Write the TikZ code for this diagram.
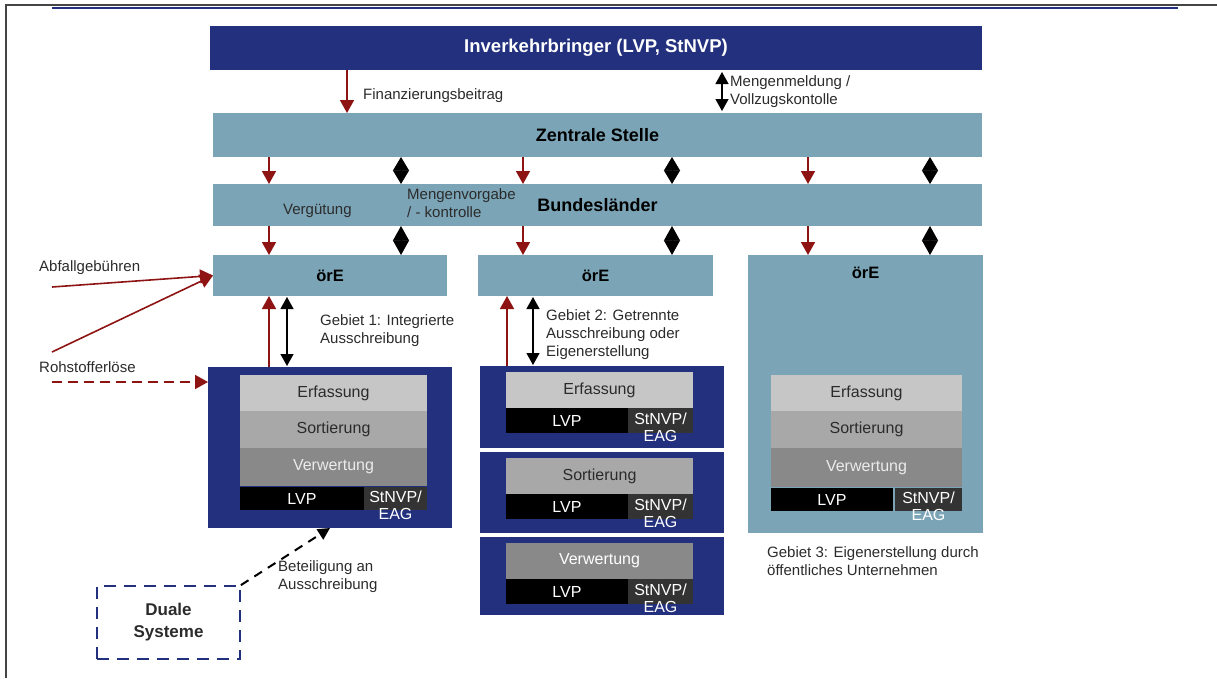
\documentclass[tikz,border=0pt]{standalone}
\usepackage{fontspec}
\setmainfont{Liberation Sans}
\usepackage{xcolor}
\usetikzlibrary{arrows.meta}
\definecolor{VSNavy}{HTML}{22307E}
\definecolor{VSTeal}{HTML}{7BA5B7}
\definecolor{VSRed}{HTML}{8E1414}
\definecolor{VSFrame}{HTML}{454545}
\definecolor{VSErf}{HTML}{C6C6C6}
\definecolor{VSSort}{HTML}{A8A8A8}
\definecolor{VSVerw}{HTML}{898989}
\definecolor{VSStn}{HTML}{333333}
\definecolor{VSText}{HTML}{2B2B2B}

\tikzset{
  bar/.style={inner sep=0pt,outer sep=0pt,draw=none},
  bandtext/.style={font=\fontsize{18}{21}\selectfont\bfseries},
  oretext/.style={font=\fontsize{16.5}{19}\selectfont\bfseries},
  stage/.style={bar,font=\fontsize{16}{19}\selectfont,text=VSText},
  lvp/.style={bar,fill=black,text=white,font=\fontsize{16}{19}\selectfont},
  stn/.style={inner sep=0pt,text=white,align=center,font=\fontsize{16}{17}\selectfont},
  lbl/.style={anchor=west,inner sep=0pt,align=left,text=VSText,font=\fontsize{15}{18}\selectfont},
  geld/.style={draw=VSRed,line width=1.6pt,-{Triangle[length=13pt,width=14pt]}},
  ctrl/.style={draw=black,line width=1.3pt,{Triangle[length=12pt,width=13pt]}-{Triangle[length=12pt,width=13pt]}},
  diam/.style={draw=black,line width=1pt,{Triangle[length=13.6pt,width=16pt]}-{Triangle[length=13.6pt,width=16pt]}},
  diamlow/.style={draw=black,line width=1pt,{Triangle[length=14.6pt,width=16pt]}-{Triangle[length=14.6pt,width=16pt]}},
  beteil/.style={draw=black,line width=2pt,dash pattern=on 9pt off 7pt,-{Triangle[length=12pt,width=12pt]}},
  dual/.style={draw=VSNavy,line width=1.8pt,dash pattern=on 12pt off 8pt,inner sep=0pt,align=center,
    font=\fontsize{17}{22}\selectfont\bfseries,text=VSText}
}

\begin{document}
\begin{tikzpicture}[x=1pt,y=-1pt]
\path[use as bounding box] (0,0) rectangle (1217,678);
% frame
\draw[VSFrame,line width=2.2pt] (6,678) -- (6,5) -- (1217,5);
\draw[VSNavy,line width=1.5pt] (52,8) -- (1178,8);

% bands
\node[bar,fill=VSNavy,text=white,minimum width=772pt,minimum height=44pt,font=\fontsize{18.5}{21}\selectfont\bfseries] (ivb) at (596,48) {Inverkehrbringer (LVP, StNVP)};
\node[bar,bandtext,fill=VSTeal,minimum width=769pt,minimum height=44pt] (zs) at (597.5,135) {Zentrale Stelle};
\node[bar,bandtext,fill=VSTeal,minimum width=769pt,minimum height=42pt] (bl) at (597.5,205) {Bundesländer};
\node[bar,oretext,fill=VSTeal,minimum width=234pt,minimum height=41pt] (ore1) at (330,275.5) {örE};
\node[bar,oretext,fill=VSTeal,minimum width=235pt,minimum height=41pt] (ore2) at (595.5,275.5) {örE};
\node[bar,fill=VSTeal,minimum width=235pt,minimum height=278pt] (ore3) at (865.5,394) {};
\node[oretext,inner sep=0pt] (ore3lbl) at (865.5,273) {örE};

% columns
\coordinate (fin) at (347,0);
\coordinate (mm) at (722,0);
\coordinate (r1) at (269,0);
\coordinate (r2) at (523,0);
\coordinate (r3) at (808,0);
\coordinate (b1) at (401,0);
\coordinate (b2) at (672,0);
\coordinate (b3) at (930,0);

\draw[geld] (ivb.south -| fin) -- (zs.north -| fin);
\draw[ctrl,shorten <=2pt,shorten >=2pt] (ivb.south -| mm) -- (zs.north -| mm);
\node[lbl] (finlbl) at (363,96) {Finanzierungsbeitrag};
\node[lbl] (mmlbl) at (730,92) {Mengenmeldung /\\Vollzugskontolle};

\foreach \r/\b/\o in {r1/b1/ore1,r2/b2/ore2,r3/b3/ore3} {
  \draw[geld] (zs.south -| \r) -- (bl.north -| \r);
  \draw[geld] (bl.south -| \r) -- (\o.north -| \r);
  \draw[diam] (zs.south -| \b) -- (bl.north -| \b);
  \draw[diamlow] (bl.south -| \b) -- (\o.north -| \b);
}
\node[lbl] (verglbl) at (283,211) {Vergütung};
\node[lbl] (mvlbl) at (407,203) {Mengenvorgabe\\/ - kontrolle};

% left inputs
\node[lbl] (abflbl) at (39,268) {Abfallgebühren};
\node[lbl] (rohlbl) at (39,367) {Rohstofferlöse};
\coordinate (abf) at (52,287);
\coordinate (roh1) at (52,352);
\coordinate (roh2) at (52,382);

% Gebiet 1
\node[bar,fill=VSNavy,minimum width=244pt,minimum height=161pt] (g1) at (330,447.5) {};
\node[stage,fill=VSErf,minimum width=187pt,minimum height=36pt] (g1erf) at (333.5,393) {Erfassung};
\node[stage,fill=VSSort,minimum width=187pt,minimum height=37pt] (g1sort) at (333.5,429.5) {Sortierung};
\node[stage,fill=VSVerw,text=white!92!black,minimum width=187pt,minimum height=38pt] (g1verw) at (333.5,467) {Verwertung};
\node[lvp,minimum width=124pt,minimum height=23pt] (g1lvp) at (302,498.5) {LVP};
\node[bar,fill=VSStn,minimum width=63pt,minimum height=23pt] (g1stn) at (395.5,498.5) {};
\node[stn] (g1stnt) at (395.5,505) {StNVP/\\EAG};

\draw[geld] (abf) -- (ore1.west);
\draw[geld] (roh1) -- (ore1.west);
\draw[geld,dash pattern=on 10pt off 6pt] (roh2) -- (roh2 -| g1.west);

\coordinate (g1r) at (269,0);
\coordinate (g1b) at (287,0);
\draw[geld] (g1.north -| g1r) -- (ore1.south -| g1r);
\draw[ctrl,shorten <=1pt,shorten >=1pt] (g1.north -| g1b) -- (ore1.south -| g1b);
\node[lbl] (g1lbl) at (320,331) {Gebiet 1: Integrierte\\Ausschreibung};

% Gebiet 2
\foreach \i/\top/\h/\stg/\col/\tc in {1/366/82/Erfassung/VSErf/VSText,2/452/81/Sortierung/VSSort/VSText,3/537/78/Verwertung/VSVerw/white} {
  \node[bar,fill=VSNavy,minimum width=244pt,minimum height=\h pt] (p\i) at (602,{\top+\h/2}) {};
  \node[stage,fill=\col,text=\tc,minimum width=187pt,minimum height=36pt] (p\i stg) at (599.5,{\top+24}) {\stg};
  \node[lvp,minimum width=122pt,minimum height=25pt] (p\i lvp) at (567,{\top+54.5}) {LVP};
  \node[bar,fill=VSStn,minimum width=65pt,minimum height=25pt] (p\i stn) at (660.5,{\top+54.5}) {};
  \node[stn] (p\i stnt) at (660.5,{\top+61}) {StNVP/\\EAG};
}
\coordinate (g2r) at (507,0);
\coordinate (g2b) at (533,0);
\draw[geld] (p1.north -| g2r) -- (ore2.south -| g2r);
\draw[ctrl,shorten <=1pt,shorten >=1pt] (p1.north -| g2b) -- (ore2.south -| g2b);
\node[lbl] (g2lbl) at (546,335) {Gebiet 2: Getrennte\\Ausschreibung oder\\Eigenerstellung};

% Gebiet 3
\node[stage,fill=VSErf,minimum width=191pt,minimum height=36pt] (g3erf) at (866.5,393) {Erfassung};
\node[stage,fill=VSSort,minimum width=191pt,minimum height=37pt] (g3sort) at (866.5,429.5) {Sortierung};
\node[stage,fill=VSVerw,text=white!92!black,minimum width=191pt,minimum height=39pt] (g3verw) at (866.5,467.5) {Verwertung};
\node[lvp,minimum width=122pt,minimum height=23pt] (g3lvp) at (832,499.5) {LVP};
\node[bar,fill=VSStn,minimum width=67pt,minimum height=23pt] (g3stn) at (928.5,499.5) {};
\node[stn] (g3stnt) at (928.5,506) {StNVP/\\EAG};
\node[lbl] (g3lbl) at (767,561) {Gebiet 3: Eigenerstellung durch\\öffentliches Unternehmen};

% Duale Systeme
\node[dual,minimum width=143pt,minimum height=73pt] (ds) at (168.5,622.5) {Duale\\Systeme};
\draw[beteil] (ds.north east) -- (g1.south);
\node[lbl] (betlbl) at (278,577) {Beteiligung an\\Ausschreibung};
\end{tikzpicture}
\end{document}
